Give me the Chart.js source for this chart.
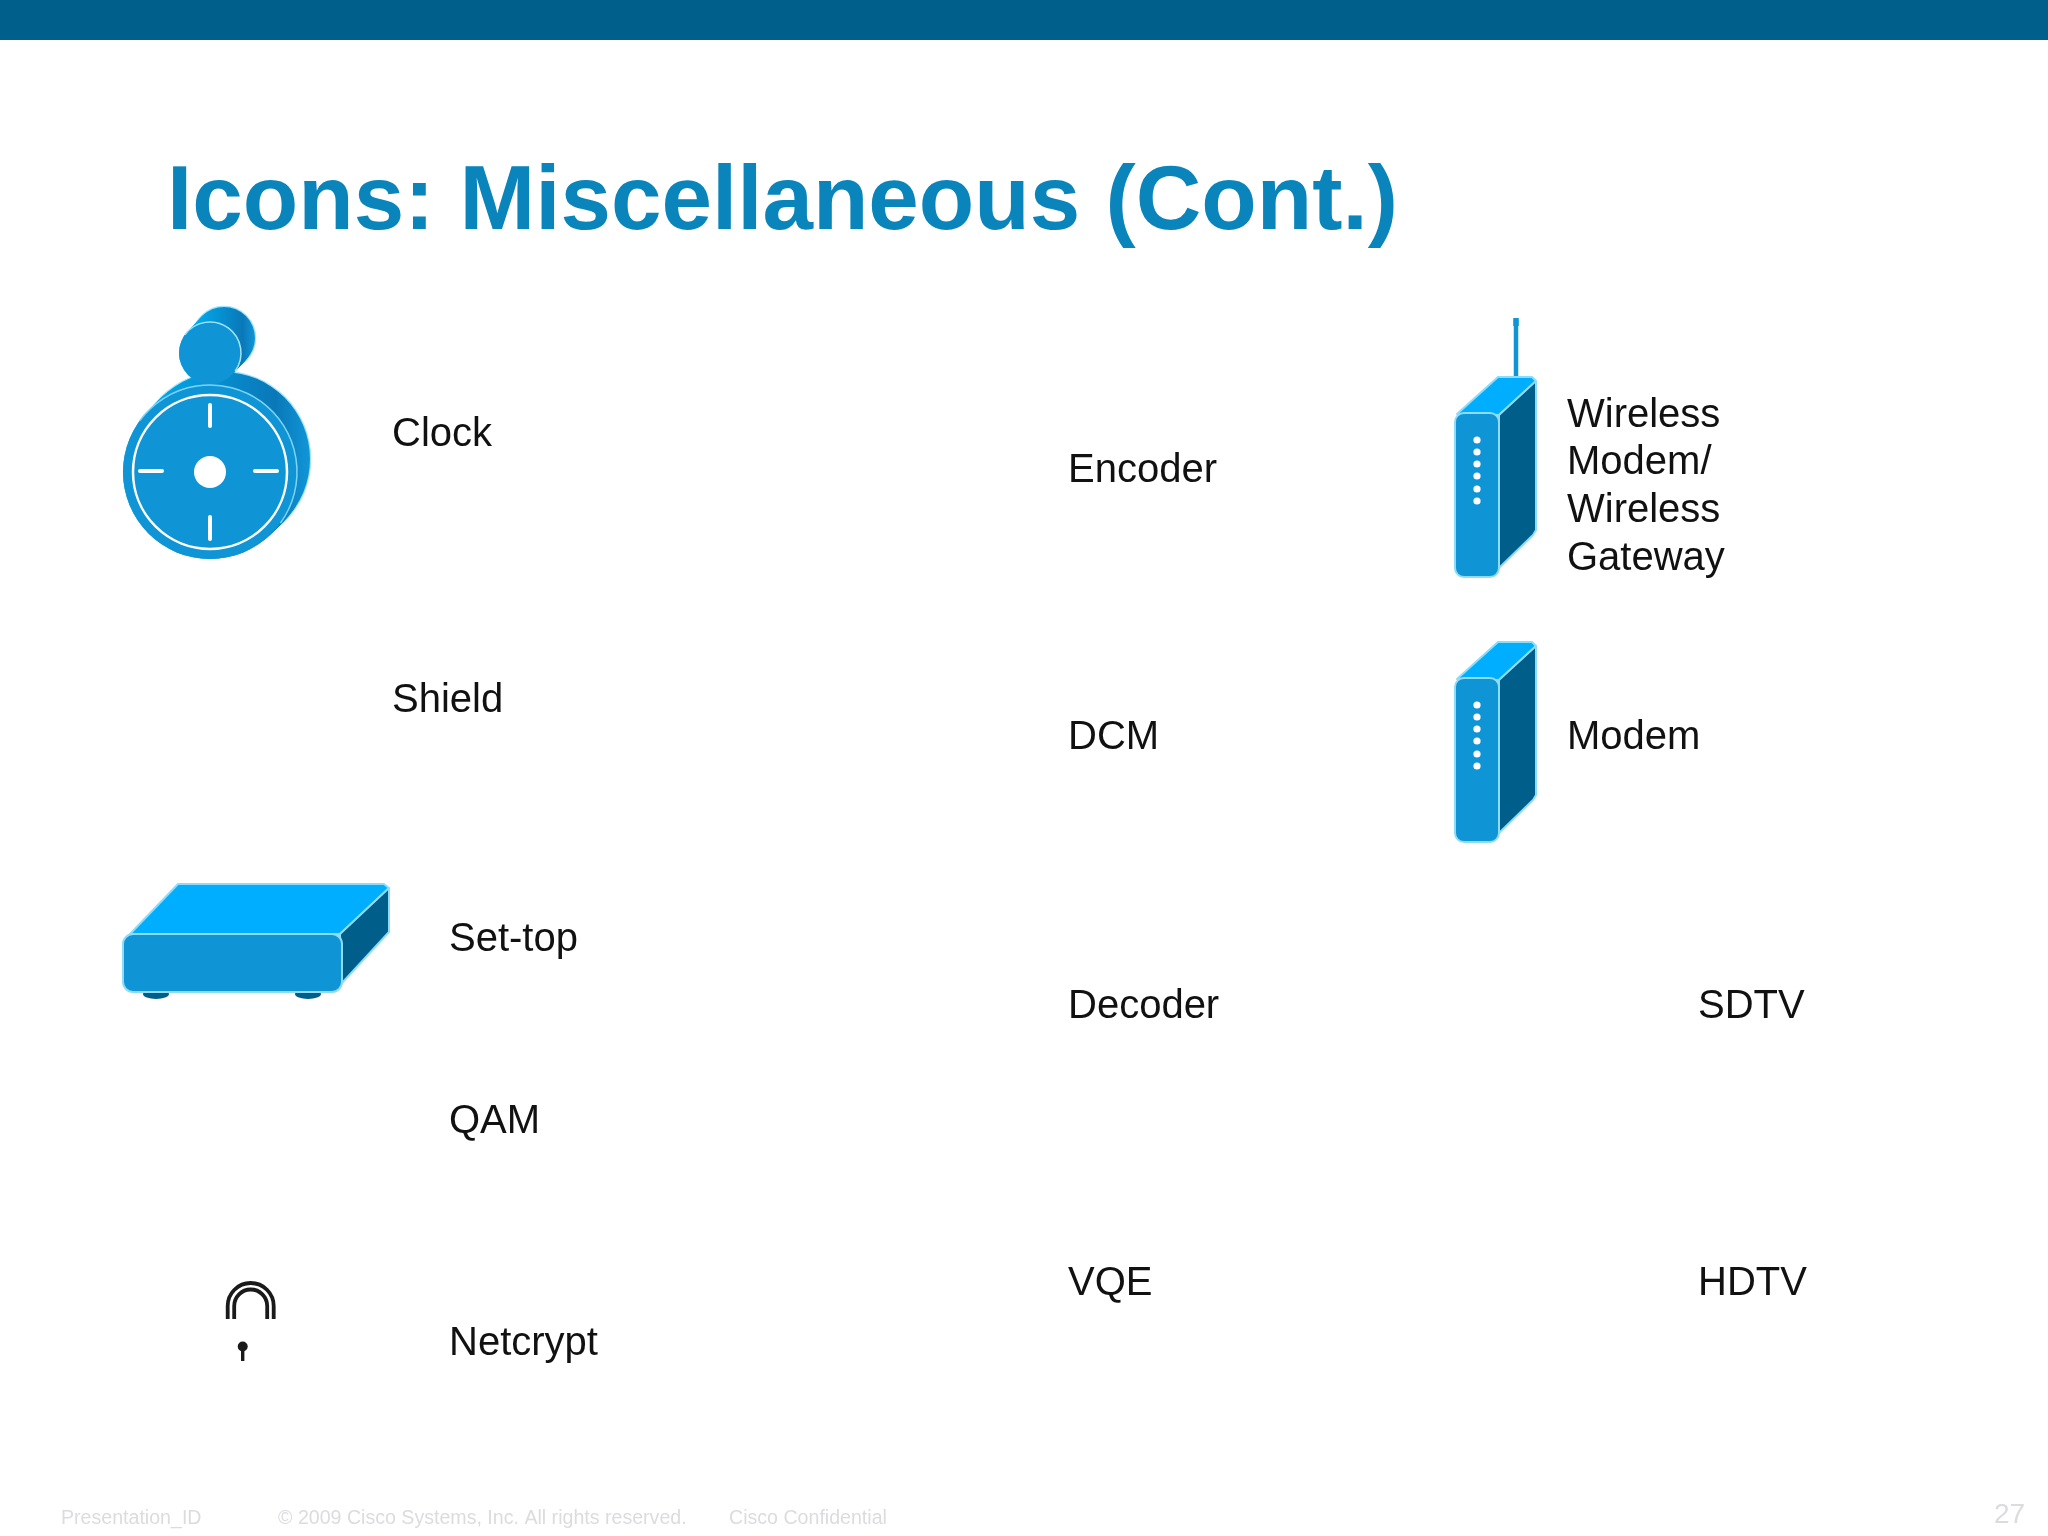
<!DOCTYPE html>
<html>
<head>
<meta charset="utf-8">
<title>Icons: Miscellaneous (Cont.)</title>
<script src="https://cdn.jsdelivr.net/npm/chart.js"></script>
<style>
  html, body { margin: 0; padding: 0; background: #fff; }
  canvas { display: block; }
</style>
</head>
<body>
<canvas id="slide" width="2048" height="1536"></canvas>
<script>
// slide text
const slideTitle = 'Icons: Miscellaneous (Cont.)';
const iconNames = ['Clock', 'Shield', 'Set-top', 'QAM', 'Netcrypt', 'Encoder', 'DCM', 'Decoder', 'VQE',
  'Wireless', 'Modem/', 'Wireless', 'Gateway', 'Modem', 'SDTV', 'HDTV'];
const footerTexts = ['Presentation_ID', '\u00a9 2009 Cisco Systems, Inc. All rights reserved.', 'Cisco Confidential'];
const pageNumber = '27';

// where each label sits, in slide pixels (same order as iconNames)
const labelX = [392, 392, 449, 449, 449, 1068, 1068, 1068, 1068, 1567, 1567, 1567, 1567, 1567, 1698, 1698];
const labelY = [446, 712, 951, 1133, 1355, 482, 749, 1018, 1295, 427, 474, 522, 570, 749, 1018, 1295];
const footerX = [61, 278, 729];

const BLUE_FRONT = '#0f95d5';
const BLUE_TOP = '#00aeff';
const BLUE_DARK = '#005e8a';
const EDGE = '#8edcf8';

function poly(ctx, s, pts, fill) {
  ctx.beginPath();
  pts.forEach((p, i) => {
    if (i === 0) ctx.moveTo(s.x(p[0]), s.y(p[1]));
    else ctx.lineTo(s.x(p[0]), s.y(p[1]));
  });
  ctx.closePath();
  ctx.fillStyle = fill;
  ctx.fill();
  ctx.strokeStyle = EDGE;
  ctx.lineWidth = 2;
  ctx.lineJoin = 'round';
  ctx.stroke();
}

function frontBox(ctx, s, x0, y0, x1, y1, r) {
  ctx.beginPath();
  ctx.roundRect(s.x(x0), s.y(y0), x1 - x0, y1 - y0, r);
  ctx.fillStyle = BLUE_FRONT;
  ctx.fill();
  ctx.strokeStyle = EDGE;
  ctx.lineWidth = 2;
  ctx.stroke();
}

function disc(ctx, s, x, y, r, fill) {
  ctx.beginPath();
  ctx.arc(s.x(x), s.y(y), r, 0, Math.PI * 2);
  ctx.fillStyle = fill;
  ctx.fill();
}

function ring(ctx, s, x, y, r, w, color, from, to) {
  ctx.beginPath();
  ctx.arc(s.x(x), s.y(y), r, from || 0, to === undefined ? Math.PI * 2 : to);
  ctx.strokeStyle = color;
  ctx.lineWidth = w;
  ctx.stroke();
}

function seg(ctx, s, x0, y0, x1, y1, w, color, cap) {
  ctx.beginPath();
  ctx.moveTo(s.x(x0), s.y(y0));
  ctx.lineTo(s.x(x1), s.y(y1));
  ctx.lineWidth = w;
  ctx.strokeStyle = color;
  ctx.lineCap = cap || 'round';
  ctx.stroke();
  ctx.lineCap = 'butt';
}

// cylinder seen from the front: sweep the back disc towards the front one
function cylinder(ctx, s, fx, fy, bx, by, r) {
  const g = ctx.createLinearGradient(s.x(bx - r), s.y(by), s.x(bx + r), s.y(by));
  g.addColorStop(0, '#00aef0');
  g.addColorStop(0.8, '#0a78b8');
  g.addColorStop(1, '#1096d8');
  ring(ctx, s, bx, by, r, 2.5, '#a5e4fa');
  for (let t = 1; t >= 0; t -= 0.1) {
    disc(ctx, s, fx + (bx - fx) * t, fy + (by - fy) * t, r, g);
  }
}

function drawClock(ctx, s) {
  const arcFrom = -Math.PI * 0.8;
  const arcTo = Math.PI * 0.2;
  cylinder(ctx, s, 210, 472, 223, 459, 87);
  disc(ctx, s, 210, 472, 87, BLUE_FRONT);
  ring(ctx, s, 210, 472, 87, 1.5, '#7fd4f5', arcFrom, arcTo);
  cylinder(ctx, s, 210, 353, 224, 338, 31);
  disc(ctx, s, 210, 353, 31, BLUE_FRONT);
  ring(ctx, s, 210, 353, 31, 1.5, '#a5e4fa', arcFrom, arcTo);
  ring(ctx, s, 210, 472, 77, 2.5, '#fff');
  disc(ctx, s, 210, 472, 16, '#fff');
  seg(ctx, s, 210, 405, 210, 426, 4, '#fff');
  seg(ctx, s, 210, 517, 210, 539, 4, '#fff');
  seg(ctx, s, 140, 471, 162, 471, 4, '#fff');
  seg(ctx, s, 255, 471, 277, 471, 4, '#fff');
}

function drawModem(ctx, s, dy, antenna) {
  if (antenna) {
    seg(ctx, s, 1516, 320, 1516, 376, 4.5, BLUE_FRONT, 'butt');
    seg(ctx, s, 1516, 318, 1516, 326, 5.5, BLUE_FRONT, 'butt');
  }
  poly(ctx, s, [[1457, 414 + dy], [1498, 377 + dy], [1532, 377 + dy], [1536, 381 + dy], [1499, 415 + dy]], BLUE_TOP);
  poly(ctx, s, [[1499, 415 + dy], [1536, 381 + dy], [1536, 530 + dy], [1533, 535 + dy], [1499, 568 + dy]], BLUE_DARK);
  frontBox(ctx, s, 1455, 413 + dy, 1499, 577 + dy, 9);
  [440, 452, 464, 476, 489, 501].forEach(y => disc(ctx, s, 1477, y + dy, 3.6, '#fff'));
}

function drawSetTop(ctx, s) {
  [156, 308].forEach(x => {
    ctx.beginPath();
    ctx.ellipse(s.x(x), s.y(994), 13, 5, 0, 0, Math.PI * 2);
    ctx.fillStyle = BLUE_DARK;
    ctx.fill();
  });
  poly(ctx, s, [[130, 934], [178, 884], [384, 884], [389, 888], [340, 934]], BLUE_TOP);
  poly(ctx, s, [[340, 934], [389, 888], [389, 932], [342, 983]], BLUE_DARK);
  frontBox(ctx, s, 123, 934, 342, 992, 10);
}

function drawLock(ctx, s) {
  ctx.strokeStyle = '#1a1a1a';
  ctx.lineWidth = 3.8;
  [23, 16.5].forEach(r => {
    ctx.beginPath();
    ctx.moveTo(s.x(250.7 - r), s.y(1319));
    ctx.lineTo(s.x(250.7 - r), s.y(1306));
    ctx.arc(s.x(250.7), s.y(1306), r, Math.PI, 0);
    ctx.lineTo(s.x(250.7 + r), s.y(1319));
    ctx.stroke();
  });
  disc(ctx, s, 242.7, 1346.5, 5, '#1a1a1a');
  seg(ctx, s, 242.7, 1346, 242.7, 1361, 3.4, '#1a1a1a', 'butt');
}

const slidePlugin = {
  id: 'slide',
  beforeDraw(chart) {
    const ctx = chart.ctx;
    const s = {
      x: v => chart.scales.x.getPixelForValue(v),
      y: v => chart.scales.y.getPixelForValue(v)
    };
    ctx.save();
    ctx.fillStyle = '#fff';
    ctx.fillRect(0, 0, chart.width, chart.height);
    ctx.fillStyle = '#00608c';
    ctx.fillRect(s.x(0), s.y(0), chart.width, s.y(40) - s.y(0));

    ctx.textAlign = 'left';
    ctx.textBaseline = 'alphabetic';
    ctx.fillStyle = '#0a85bb';
    ctx.font = 'bold 90.8px "Liberation Sans"';
    ctx.fillText(slideTitle, s.x(167), s.y(229));

    drawClock(ctx, s);
    drawModem(ctx, s, 0, true);
    drawModem(ctx, s, 265, false);
    drawSetTop(ctx, s);
    drawLock(ctx, s);

    ctx.fillStyle = '#dcdce0';
    ctx.font = '19.6px "Liberation Sans"';
    footerTexts.forEach((t, i) => ctx.fillText(t, s.x(footerX[i]), s.y(1524)));
    ctx.font = '28px "Liberation Sans"';
    ctx.fillText(pageNumber, s.x(1994), s.y(1523));
    ctx.restore();
  },
  afterDatasetsDraw(chart) {
    // label text hangs off the invisible anchor points
    const ctx = chart.ctx;
    const pts = chart.getDatasetMeta(0).data;
    ctx.save();
    ctx.textAlign = 'left';
    ctx.textBaseline = 'alphabetic';
    ctx.fillStyle = '#111';
    ctx.font = '40px "Liberation Sans"';
    pts.forEach((p, i) => ctx.fillText(iconNames[i], p.x, p.y));
    ctx.restore();
  }
};

new Chart(document.getElementById('slide'), {
  type: 'scatter',
  data: {
    datasets: [{
      data: labelX.map((x, i) => ({ x: x, y: labelY[i] })),
      pointRadius: 0
    }]
  },
  options: {
    responsive: false,
    animation: false,
    layout: { padding: 0 },
    plugins: { legend: { display: false }, tooltip: { enabled: false } },
    scales: {
      x: { type: 'linear', min: 0, max: 2048, display: false },
      y: { type: 'linear', min: 0, max: 1536, reverse: true, display: false }
    }
  },
  plugins: [slidePlugin]
});
</script>
</body>
</html>
